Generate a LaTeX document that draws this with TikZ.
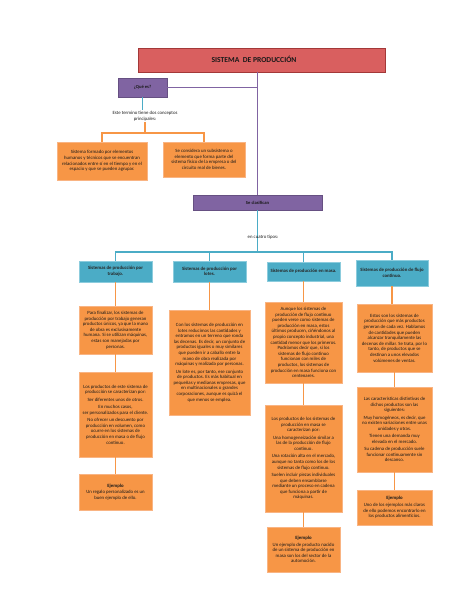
\documentclass[tikz,border=0pt]{standalone}
\usepackage{fontspec}
\setmainfont{Carlito}
\definecolor{orng}{HTML}{F79646}
\definecolor{orngl}{HTML}{F9B483}
\definecolor{cyanb}{HTML}{4BACC6}
\definecolor{cyanl}{HTML}{8CCCDD}
\definecolor{purp}{HTML}{8064A2}
\definecolor{redt}{HTML}{D95F5F}
\definecolor{redd}{HTML}{A33838}
\begin{document}
\begin{tikzpicture}[x=1pt,y=-1pt,
  box/.style={rectangle, fill=orng, draw=orngl, line width=0.6pt, inner sep=0pt, align=center,
    font=\fontsize{4.8}{5.6}\selectfont, text=black!90},
  tbox/.style={rectangle, fill=cyanb, draw=cyanl, line width=0.6pt, inner sep=0pt, align=center,
    font=\fontsize{4.8}{5.6}\selectfont\bfseries, text=black!85},
  pbox/.style={rectangle, fill=purp, draw=purp!80!black, line width=0.5pt, inner sep=0pt, align=center,
    font=\fontsize{4.6}{5.4}\selectfont\bfseries, text=black!90},
  plain/.style={inner sep=1pt, align=center, font=\fontsize{4.8}{5.6}\selectfont, text=black!90},
  pline/.style={draw=purp, line width=1.3pt},
  cline/.style={draw=cyanb, line width=1.4pt},
  oline/.style={draw=orng, line width=1.4pt}
]
\useasboundingbox[fill=white] (0,0) rectangle (474,613);

% title
\node[rectangle, fill=redt, draw=redd, line width=0.7pt, minimum width=247pt, minimum height=24pt] (title) at (261.5,60) {};
\node[inner sep=0pt, font=\fontsize{7.6}{9}\selectfont\bfseries, text=black!90] (titletext) at (254,59.5) {SISTEMA\ \ DE PRODUCCIÓN};

% que es
\node[pbox, minimum width=49pt, minimum height=19pt] (quees) at (142.5,87.5) {¿Qué es?};
\node[pbox, minimum width=129pt, minimum height=15pt] (seclas) at (257.5,202.5) {Se clasifican};

\node[plain] (este) at (145,116) {Este termino tiene dos conceptos\\principales:};

\node[box, minimum width=90pt, minimum height=38pt] (cl) at (102,161)
 {Sistema formado por elementos\\humanos y técnicos que se encuentran\\relacionados entre sí en el tiempo y en el\\espacio y que se pueden agrupar.};
\node[box, minimum width=82pt, minimum height=35pt] (cr) at (204,159.5)
 {Se considera un subsistema o\\elemento que forma parte del\\sistema físico de la empresa o del\\circuito real de bienes.};

% types
\node[tbox, minimum width=73pt, minimum height=21pt] (t1) at (115.5,271.5) {Sistemas de producción por\\trabajo.};
\node[tbox, minimum width=73pt, minimum height=21pt] (t2) at (209.5,271.5) {Sistemas de producción por\\lotes.};
\node[tbox, minimum width=73pt, minimum height=19pt] (t3) at (303.5,271.5) {Sistemas de producción en masa.};
\node[tbox, minimum width=72pt, minimum height=26pt] (t4) at (392,273) {Sistemas de producción de flujo\\continuo.};

% column 1
\node[box, minimum width=73pt, minimum height=48pt] (c1a) at (115.5,330)
 {Para finalizar, los sistemas de\\producción por trabajo generan\\productos únicos, ya que la mano\\de obra es exclusivamente\\humana. Si se utilizan máquinas,\\estas son manejadas por\\personas.};
\node[box, minimum width=73pt, minimum height=85pt] (c1b) at (115.5,414.5)
 {Los productos de este sistema de\\producción se caracterizan por:\\[1.8pt]Ser diferentes unos de otros.\\[1.8pt]En muchos casos,\\ser personalizados para el cliente.\\[1.8pt]No ofrecer un descuento por\\producción en volumen, como\\ocurre en los sistemas de\\producción en masa o de flujo\\continuo.};
\node[box, minimum width=73pt, minimum height=36pt] (c1c) at (115.5,492)
 {\textbf{Ejemplo}\\[1pt]Un regalo personalizado es un\\buen ejemplo de ello.};

% column 2
\node[box, minimum width=81pt, minimum height=105pt] (c2) at (209.5,362.5)
 {Con los sistemas de producción en\\lotes reducimos las cantidades y\\entramos en un terreno que ronda\\las decenas. Es decir, un conjunto de\\productos iguales o muy similares\\que pueden ir a caballo entre la\\mano de obra realizada por\\máquinas y realizada por personas.\\[1.8pt]Un lote es, por tanto, ese conjunto\\de productos. Es más habitual en\\pequeñas y medianas empresas, que\\en multinacionales o grandes\\corporaciones, aunque es quizá el\\que menos se emplea.};

% column 3
\node[box, minimum width=77pt, minimum height=81pt] (c3a) at (303.5,342.5)
 {Aunque los sistemas de\\producción de flujo continuo\\pueden verse como sistemas de\\producción en masa, estos\\últimos producen, ciñéndonos al\\propio concepto industrial, una\\cantidad menor que los primeros.\\Podríamos decir que, si los\\sistemas de flujo continuo\\funcionan con miles de\\productos, los sistemas de\\producción en masa funciona con\\centenares.};
\node[box, minimum width=77pt, minimum height=107pt] (c3b) at (303.5,458.5)
 {Los productos de los sistemas de\\producción en masa se\\caracterizan por:\\[1.8pt]Una homogeneización similar a\\las de la producción de flujo\\continuo.\\[1.8pt]Una rotación alta en el mercado,\\aunque no tanta como los de los\\sistemas de flujo continuo.\\[1.8pt]Suelen incluir piezas individuales\\que deben ensamblarse\\mediante un proceso en cadena\\que funciona a partir de\\máquinas.};
\node[box, minimum width=73pt, minimum height=45pt] (c3c) at (303.5,549.5)
 {\textbf{Ejemplo}\\[1pt]Un ejemplo de producto nacido\\de un sistema de producción en\\masa son los del sector de la\\automoción.};

% column 4
\node[box, minimum width=75pt, minimum height=68pt] (c4a) at (394.5,338)
 {Estos son los sistemas de\\producción que más productos\\generan de cada vez. Hablamos\\de cantidades que pueden\\alcanzar tranquilamente las\\decenas de millar. Se trata, por lo\\tanto, de productos que se\\destinan a unos elevados\\volúmenes de ventas.};
\node[box, minimum width=75pt, minimum height=85pt] (c4b) at (394.5,429.5)
 {Las características distintivas de\\dichos productos son las\\siguientes:\\[1.8pt]Muy homogéneos, es decir, que\\no existen variaciones entre unas\\unidades y otras.\\[1.8pt]Tienen una demanda muy\\elevada en el mercado.\\[1.8pt]Su cadena de producción suele\\funcionar continuamente sin\\descanso.};
\node[box, minimum width=75pt, minimum height=35pt] (c4c) at (394.5,507.5)
 {\textbf{Ejemplo}\\[1pt]Uno de los ejemplos más claros\\de ello podemos encontrarlo en\\los productos alimenticios.};

% connectors
\draw[pline] (seclas.north |- title.south) -- (seclas.north);
\draw[pline] (quees.east) -- (quees.east -| seclas.north);
\draw[cline] (quees.south) -- (quees.south |- este.north);
\coordinate (br) at (145,133);
\draw[oline] (este.south) -- (br);
\draw[oline] (cl.north) -- (cl.north |- br) -- (cr.north |- br) -- (cr.north);

\coordinate (hb) at (0,252);
\draw[cline] (seclas.south) -- (seclas.south |- hb);
\draw[cline] (t1.north) -- (t1.north |- hb) -- (t4.north |- hb) -- (t4.north);
\draw[cline] (t2.north |- hb) -- (t2.north);
\draw[cline] (t3.north |- hb) -- (t3.north);
\node[plain] (cuatro) at (263,237) {en cuatro tipos:};

\draw[oline] (t1.south) -- (t1.south |- c1a.north);
\draw[oline] (c1a.south) -- (c1a.south |- c1b.north);
\draw[oline] (c1b.south) -- (c1b.south |- c1c.north);
\draw[oline] (t2.south) -- (t2.south |- c2.north);
\draw[oline] (t3.south) -- (t3.south |- c3a.north);
\draw[oline] (c3a.south) -- (c3a.south |- c3b.north);
\draw[oline] (c3b.south) -- (c3b.south |- c3c.north);
\draw[oline] (t4.south) -- (t4.south |- c4a.north);
\draw[oline] (c4a.south) -- (c4a.south |- c4b.north);
\draw[oline] (c4b.south) -- (c4b.south |- c4c.north);
\end{tikzpicture}
\end{document}
